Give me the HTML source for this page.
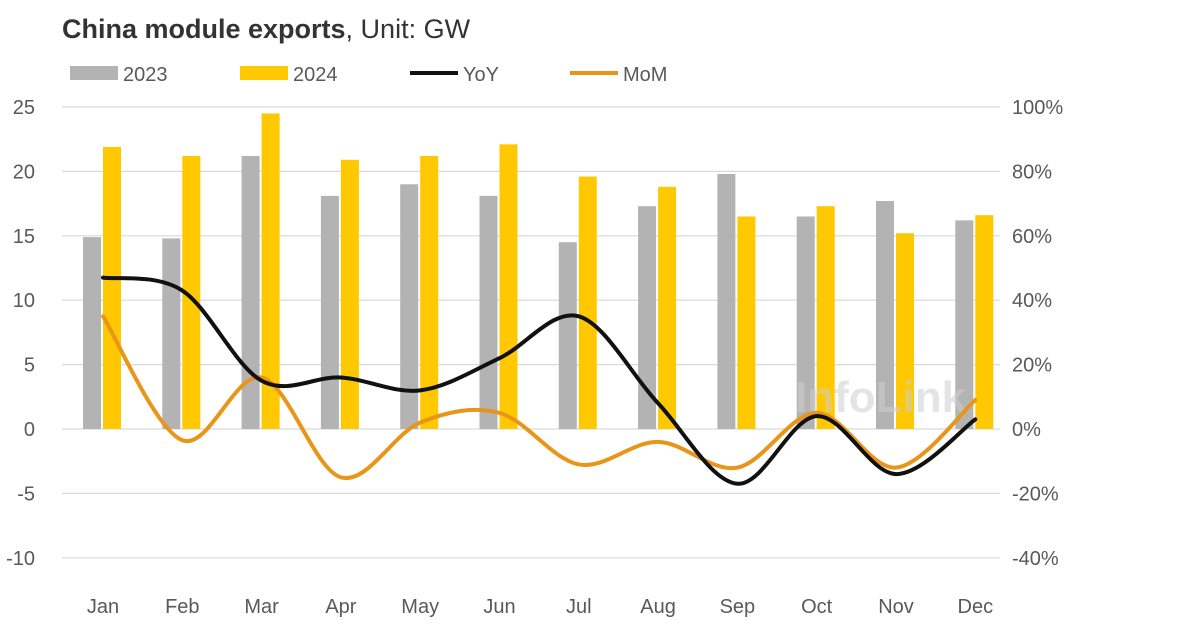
<!DOCTYPE html>
<html><head><meta charset="utf-8"><style>
body{margin:0;background:#fff;}
svg{display:block;font-family:"Liberation Sans",sans-serif;}
</style></head><body>
<svg id="chart" width="1200" height="633" viewBox="0 0 1200 633">
<text x="62" y="38" font-size="27" fill="#333"><tspan font-weight="bold">China module exports</tspan>, Unit: GW</text>
<g font-size="20" fill="#595959">
<g><rect x="70" y="66" width="48" height="14" fill="#b3b3b3"/><text x="123" y="81">2023</text></g>
<g><rect x="240" y="66" width="48" height="14" fill="#ffc800"/><text x="293" y="81">2024</text></g>
<g><line x1="410" y1="73" x2="458" y2="73" stroke="#111" stroke-width="4"/><text x="463" y="81">YoY</text></g>
<g><line x1="570" y1="73" x2="618" y2="73" stroke="#e8951a" stroke-width="4"/><text x="623" y="81">MoM</text></g>
</g>
<g id="grid"></g><g id="bars"></g>
<text x="795" y="412" font-size="44" font-weight="bold" fill="#cfcfcf" opacity="0.55">InfoLink</text>
<g id="lines"></g><g id="axes"></g>
</svg>
<script>
const months=["Jan","Feb","Mar","Apr","May","Jun","Jul","Aug","Sep","Oct","Nov","Dec"];
const s2023=[14.9,14.8,21.2,18.1,19.0,18.1,14.5,17.3,19.8,16.5,17.7,16.2];
const s2024=[21.9,21.2,24.5,20.9,21.2,22.1,19.6,18.8,16.5,17.3,15.2,16.6];
const yoy=[47,43,15,16,12,22,35,8,-17,4,-14,3];
const mom=[35,-3.5,16,-15,2,5,-11,-4,-12,5,-12,9];
const leftTicks=[25,20,15,10,5,0,-5,-10];
const rightTicks=["100%","80%","60%","40%","20%","0%","-20%","-40%"];
const NS="http://www.w3.org/2000/svg";
const yL=v=>429-v*12.88;
const yR=p=>yL(p/4);
const xC=i=>103+i*79.3;
function mk(t,a,p){const e=document.createElementNS(NS,t);for(const k in a)e.setAttribute(k,a[k]);p.appendChild(e);return e;}
const grid=document.getElementById('grid'),bars=document.getElementById('bars'),lines=document.getElementById('lines'),axes=document.getElementById('axes');
leftTicks.forEach((v,i)=>{
 const g=mk('line',{x1:62,x2:1000,y1:yL(v),y2:yL(v),stroke:'#d9d9d9','stroke-width':1.2},grid);
 
 
 const t=mk('text',{x:35,y:yL(v)+7,'text-anchor':'end','font-size':20,fill:'#595959'},axes);t.textContent=v;
 
 
 const r=mk('text',{x:1012,y:yL(v)+7,'font-size':20,fill:'#595959'},axes);r.textContent=rightTicks[i];
 
 
});
months.forEach((m,i)=>{
 const t=mk('text',{x:xC(i),y:613,'text-anchor':'middle','font-size':20,fill:'#595959'},axes);t.textContent=m;
 
 
 const b1=mk('rect',{x:xC(i)-20,y:yL(s2023[i]),width:18,height:yL(0)-yL(s2023[i]),fill:'#b3b3b3'},bars);
 
 
 const b2=mk('rect',{x:xC(i),y:yL(s2024[i]),width:18,height:yL(0)-yL(s2024[i]),fill:'#ffc800'},bars);
 
 
});
function smooth(vals){
 const p=vals.map((v,i)=>[xC(i),yR(v)]);let d='M'+p[0][0]+','+p[0][1];
 for(let i=0;i<p.length-1;i++){const p0=p[i-1]||p[i],p1=p[i],p2=p[i+1],p3=p[i+2]||p[i+1];
  const c1=[p1[0]+(p2[0]-p0[0])/6,p1[1]+(p2[1]-p0[1])/6],c2=[p2[0]-(p3[0]-p1[0])/6,p2[1]-(p3[1]-p1[1])/6];
  d+=` C${c1[0]},${c1[1]} ${c2[0]},${c2[1]} ${p2[0]},${p2[1]}`;}
 return d;}
const lm=mk('path',{d:smooth(mom),fill:'none',stroke:'#e8951a','stroke-width':4,'stroke-linecap':'round'},lines);


const ly=mk('path',{d:smooth(yoy),fill:'none',stroke:'#111','stroke-width':4,'stroke-linecap':'round'},lines);


</script>
</body></html>
